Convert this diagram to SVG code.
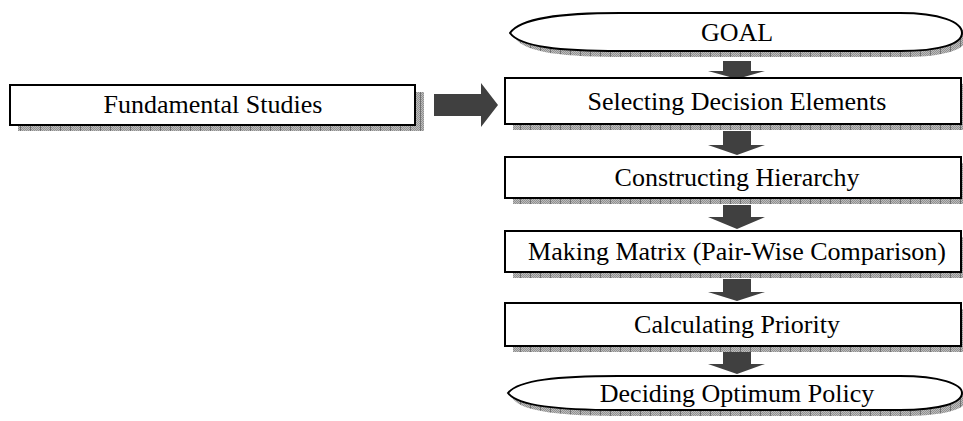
<svg xmlns="http://www.w3.org/2000/svg" width="963" height="421" viewBox="0 0 963 421">
<style>
.box{fill:#ffffff;stroke:#000000;stroke-width:2}
.sh{fill:url(#grid);stroke:none}
.arr{fill:#404040;stroke:none}
.t{font-family:"Liberation Serif","Times New Roman",serif;font-size:26px;fill:#000000;text-anchor:middle}
</style>
<defs>
<pattern id="dots" width="2" height="2" patternUnits="userSpaceOnUse">
<rect width="2" height="2" fill="#bdbdbd"/>
<rect width="1" height="1" fill="#909090"/>
<rect x="1" y="1" width="1" height="1" fill="#909090"/>
</pattern>
<pattern id="grid" width="10" height="10" patternUnits="userSpaceOnUse">
<rect width="10" height="10" fill="url(#dots)"/>
<rect width="1" height="10" fill="#707070"/>
</pattern>
</defs>
<g id="connectors">
<polygon class="arr" points="434,94 481,94 481,83 498,105 481,127 481,116 434,116"/>
<polygon class="arr" points="723,61 751,61 751,71 765,71 737,79 708,71 723,71"/>
<polygon class="arr" points="723,131 751,131 751,145 765,145 737,155 708,145 723,145"/>
<polygon class="arr" points="723,205 751,205 751,217 765,217 737,229 708,217 723,217"/>
<polygon class="arr" points="723,279 751,279 751,292 765,292 737,301 708,292 723,292"/>
<polygon class="arr" points="723,352 751,352 751,364 765,364 737,374 708,364 723,364"/>
</g>
<g id="fundamental">
<rect class="sh" x="18" y="92" width="406" height="39"/>
<rect class="box" x="10" y="85" width="405" height="40"/>
<text class="t" x="213" y="113">Fundamental Studies</text>
</g>
<g id="goal">
<path class="sh" d="M515,38 C525,23 565,18 625,18 L905,18 C945,18 967,27 967,38 C967,49 945,57 905,57 L625,57 C565,57 525,53 515,38 Z"/>
<path class="box" d="M510,33 C520,18 560,13 620,13 L900,13 C940,13 962,22 962,33 C962,44 940,51 900,51 L620,51 C560,51 520,47 510,33 Z"/>
<text class="t" x="737" y="41">GOAL</text>
</g>
<g id="selecting">
<rect class="sh" x="513" y="84" width="455" height="46"/>
<rect class="box" x="505" y="78" width="456" height="46"/>
<text class="t" x="737" y="110">Selecting Decision Elements</text>
</g>
<g id="constructing">
<rect class="sh" x="513" y="163" width="455" height="41"/>
<rect class="box" x="505" y="157" width="456" height="41"/>
<text class="t" x="737" y="186">Constructing Hierarchy</text>
</g>
<g id="making">
<rect class="sh" x="513" y="237" width="455" height="41"/>
<rect class="box" x="505" y="231" width="456" height="41"/>
<text class="t" x="737" y="260">Making Matrix (Pair-Wise Comparison)</text>
</g>
<g id="calculating">
<rect class="sh" x="513" y="309" width="455" height="43"/>
<rect class="box" x="505" y="303" width="456" height="43"/>
<text class="t" x="737" y="333">Calculating Priority</text>
</g>
<g id="deciding">
<path class="sh" d="M513,399 C523,386 563,382 623,382 L905,382 C945,382 967,390 967,399 C967,409 945,416 905,416 L623,416 C563,416 523,412 513,399 Z"/>
<path class="box" d="M508,393 C518,380 558,376 618,376 L900,376 C940,376 962,384 962,393 C962,403 940,410 900,410 L618,410 C558,410 518,406 508,393 Z"/>
<text class="t" x="737" y="402">Deciding Optimum Policy</text>
</g>
</svg>
